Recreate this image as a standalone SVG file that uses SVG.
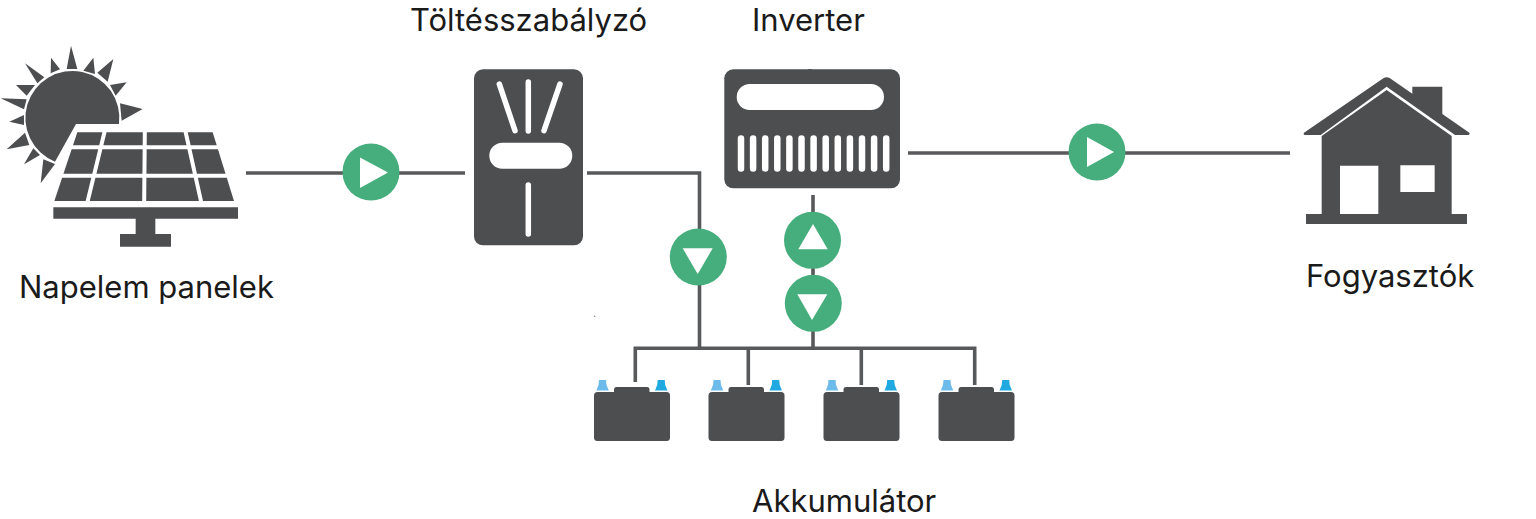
<svg xmlns="http://www.w3.org/2000/svg" xmlns:xlink="http://www.w3.org/1999/xlink" width="1536" height="519" viewBox="0 0 1536 519">
<style>
.ic{fill:#4d4e50}
.w{stroke:#fff;fill:none;stroke-linecap:round}
.wf{fill:#fff}
.c{stroke:#58595b;stroke-width:3.6;fill:none}
.g{fill:#46ae7c}
.t{font-family:Inter,"Liberation Sans",sans-serif;font-size:31px;fill:#1a1a1a}
</style>
<defs>
<g id="bat">
<rect class="ic" x="0" y="6" width="76" height="49" rx="3.5"/>
<rect class="ic" x="20" y="1" width="35.500" height="10" rx="2.500"/>
<path fill="#6cbbea" d="M5-6H12L12.500-1L14.800 4.500H2.300L4.500-1Z"/>
<path fill="#1fa9e0" d="M63.700-6H70.700L71.200-1L73.500 4.500H61L63.200-1Z"/>
</g>
</defs>
<g id="connectors">
<path class="c" d="M246 173H465"/>
<path class="c" d="M587 173H699.500V348"/>
<path class="c" d="M813 195V348"/>
<path class="c" d="M635.300 382V348.300H974.700V385M748.300 348V385M861.300 348V385"/>
<path class="c" d="M908 153H1290"/>
<path class="c" d="M810 69V71" stroke-width="2"/>
</g>
<g id="solar" transform="translate(0 30) scale(.33333)">
<path class="ic" d="M357 282H228L165 395A141 141 0 1 1 357 282Z"/>
<path class="ic" d="M213 47L200 117L232 117ZM153 83L152 130L180 118ZM75 100L112 160L133 142ZM48 165L80 197L105 165ZM2 205L72 238L80 208ZM28 275L72 255L72 285ZM20 358L75 308L88 345ZM72 403L100 355L120 375ZM122 460L130 388L165 402ZM380 157L330 165L347 197ZM428 237L360 220L365 272ZM340 87L292 128L323 155ZM280 83L250 122L285 132Z"/>
<path class="ic" d="M232 307H638L702 513H163Z"/>
<path d="M200 352H680M170 437H690M315 300L261.500 520M434.500 300L432.500 520M555.500 300L604.500 520" stroke="#fff" fill="none" stroke-width="12"/>
<path class="ic" d="M160 532H714V566H466V612H513V650H360V612H407V566H160Z"/>
</g>
<g id="controller">
<rect class="ic" x="474" y="69.300" width="109" height="176" rx="9"/>
<path class="w" stroke-width="5.500" d="M499.300 84L515 130.700M528.300 82V131M560 84L544 130.700M528.300 185V234"/>
<rect class="wf" x="489.300" y="142.700" width="83" height="26" rx="13"/>
</g>
<g id="inverter">
<rect class="ic" x="724.300" y="69.300" width="175.700" height="119" rx="9"/>
<rect class="wf" x="736.700" y="84" width="147.300" height="26" rx="13"/>
<path class="w" stroke-width="6.500" d="M741 138.500V168.500M753.100 138.500V168.500M765.200 138.500V168.500M777.300 138.500V168.500M789.400 138.500V168.500M801.500 138.500V168.500M813.600 138.500V168.500M825.700 138.500V168.500M837.800 138.500V168.500M849.900 138.500V168.500M862 138.500V168.500M874.100 138.500V168.500M886.200 138.500V168.500"/>
</g>
<g id="house" transform="translate(1290 70) scale(.33333)">
<path class="ic" d="M42 188L280 25Q290 18 300 25L367 71V50H457V132L538 188Q541 195 532 195H495L290 50L92 195H48Q38 195 42 188Z"/>
<path class="ic" fill-rule="evenodd" d="M95 198L290 60L485 198V432H531V462H48V432H95ZM150 287V432H265V287ZM331 286V366H434V286Z"/>
</g>
<g id="flow1"><circle class="g" cx="371" cy="172" r="28.500"/><path class="wf" d="M360 157.500L388 172.500L360 188Z"/></g>
<g id="flow2"><circle class="g" cx="698.300" cy="257" r="28.500"/><path class="wf" d="M682.700 248.300H712.700L697.700 274Z"/></g>
<g id="flow3"><circle class="g" cx="812.500" cy="240.300" r="28.500"/><path class="wf" d="M798.300 249.300H827.700L813 224Z"/></g>
<g id="flow4"><circle class="g" cx="813.300" cy="303.300" r="28.500"/><path class="wf" d="M797.300 294.300H827.300L812 320Z"/></g>
<g id="flow5"><circle class="g" cx="1097" cy="152" r="28.500"/><path class="wf" d="M1087 137L1114 152L1087 167Z"/></g>
<g id="battery1"><use xlink:href="#bat" href="#bat" x="594" y="386"/></g>
<g id="battery2"><use xlink:href="#bat" href="#bat" x="708.500" y="386"/></g>
<g id="battery3"><use xlink:href="#bat" href="#bat" x="823.500" y="386"/></g>
<g id="battery4"><use xlink:href="#bat" href="#bat" x="938.500" y="386"/></g>
<circle cx="594.700" cy="316.300" r=".7" fill="#77787a"/>
<g id="labels">
<text class="t" x="410" y="31">Töltésszabályzó</text>
<text class="t" x="752" y="31">Inverter</text>
<text class="t" x="19" y="298">Napelem panelek</text>
<text class="t" x="1306" y="287">Fogyasztók</text>
<text class="t" x="752" y="512">Akkumulátor</text>
</g>
</svg>
